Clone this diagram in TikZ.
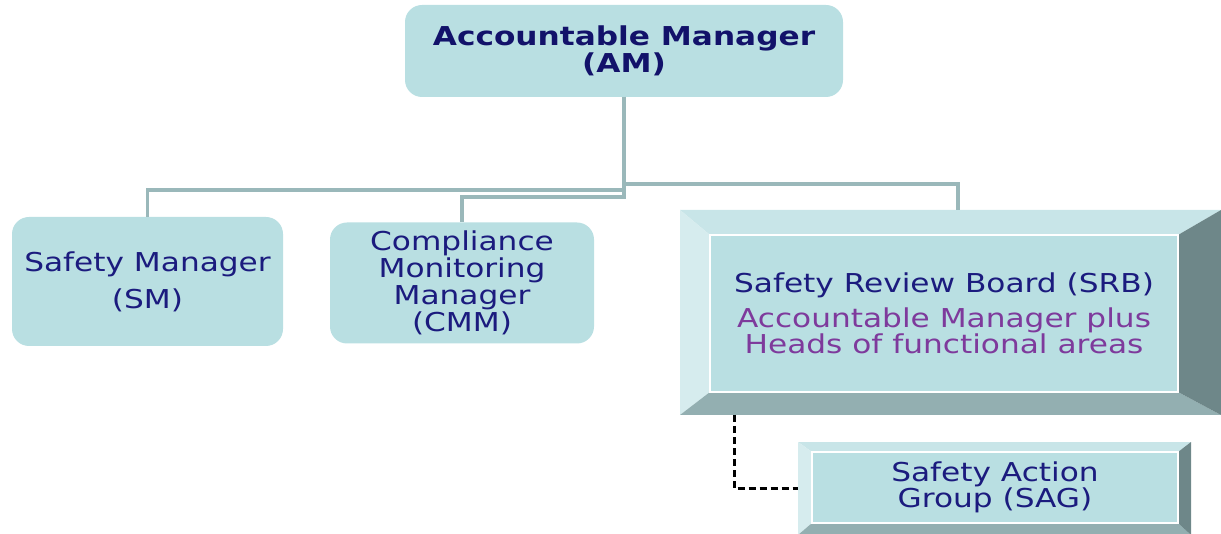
\documentclass[tikz,border=0pt]{standalone}
\usepackage{fontspec}
\setmainfont{DejaVu Sans}[FakeStretch=1.2]
\usepackage{tikz}

\definecolor{boxfill}{HTML}{B9DFE2}
\definecolor{navytext}{HTML}{1B1B7E}
\definecolor{amtext}{HTML}{12126A}
\definecolor{purpletext}{HTML}{7E3A9C}
\definecolor{linkgray}{HTML}{9AB8BA}
\definecolor{bevtopc}{HTML}{C8E5E8}
\definecolor{bevleftc}{HTML}{D6ECEE}
\definecolor{bevbotc}{HTML}{93AFB1}
\definecolor{bevrightc}{HTML}{6E8789}

% four bevel faces between an outer frame node and its inner node
\newcommand{\bevels}[2]{%
  \fill[bevtopc] (#1.north west) -- (#1.north east) -- (#2.north east) -- (#2.north west) -- cycle;
  \fill[bevleftc] (#1.north west) -- (#2.north west) -- (#2.south west) -- (#1.south west) -- cycle;
  \fill[bevbotc] (#1.south west) -- (#2.south west) -- (#2.south east) -- (#1.south east) -- cycle;
  \fill[bevrightc] (#1.north east) -- (#2.north east) -- (#2.south east) -- (#1.south east) -- cycle;
}

\begin{document}
\begin{tikzpicture}[x=1pt, y=-1pt,
    rbox/.style={fill=boxfill, rounded corners=17pt, align=center, text=navytext,
      font=\fontsize{26}{27}\selectfont, inner sep=0pt, outer sep=0pt},
    bevframe/.style={inner sep=0pt, outer sep=0pt},
    bevinner/.style={fill=boxfill, draw=white, line width=1.5pt, align=center, text=navytext,
      font=\fontsize{26}{26}\selectfont, inner sep=0pt, outer sep=0pt},
    link/.style={draw=linkgray, line width=3.5pt},
    dashlink/.style={draw=black, line width=3pt, dash pattern=on 7pt off 4pt}]
    \useasboundingbox (0,0) rectangle (1221,534);

    % top
    \node[rbox, minimum width=438, minimum height=92, text=amtext, font=\fontsize{26}{27}\selectfont\bfseries]
        (am) at (624,51) {Accountable Manager\\(AM)};

    % second row
    \node[rbox, minimum width=271, minimum height=129] (sm) at (147.5,281.5)
        {Safety Manager\\[10pt](SM)};
    \node[rbox, minimum width=264, minimum height=121] (cmm) at (462,283)
        {Compliance\\Monitoring\\Manager\\(CMM)};

    \node[bevframe, minimum width=541, minimum height=205] (srbframe) at (950.5,312.5) {};
    \node[bevframe, minimum width=468, minimum height=157] (srbin) at (944,313.5) {};
    \bevels{srbframe}{srbin}
    \node[bevinner, minimum width=468, minimum height=157] (srb) at (944,313.5)
        {Safety Review Board (SRB)\\[9pt]
         \color{purpletext}Accountable Manager plus\\
         \color{purpletext}Heads of functional areas};

    \node[bevframe, minimum width=393, minimum height=93] (sagframe) at (994.5,488.5) {};
    \node[bevframe, minimum width=366, minimum height=71] (sagin) at (995,487.5) {};
    \bevels{sagframe}{sagin}
    \node[bevinner, minimum width=366, minimum height=71] (sag) at (995,487.5)
        {Safety Action\\Group (SAG)};

    % connectors
    \coordinate (srbtop) at (958,210);
    \coordinate (srbfoot) at (734,415);
    \draw[link] (am.south) -- ++(0,93) -| (sm.north);
    \draw[link] (am.south) -- ++(0,100) -| (cmm.north);
    \draw[link] (am.south) -- ++(0,87) -| (srbtop);
    \draw[dashlink] (srbfoot) |- (sagframe.west);
\end{tikzpicture}
\end{document}
